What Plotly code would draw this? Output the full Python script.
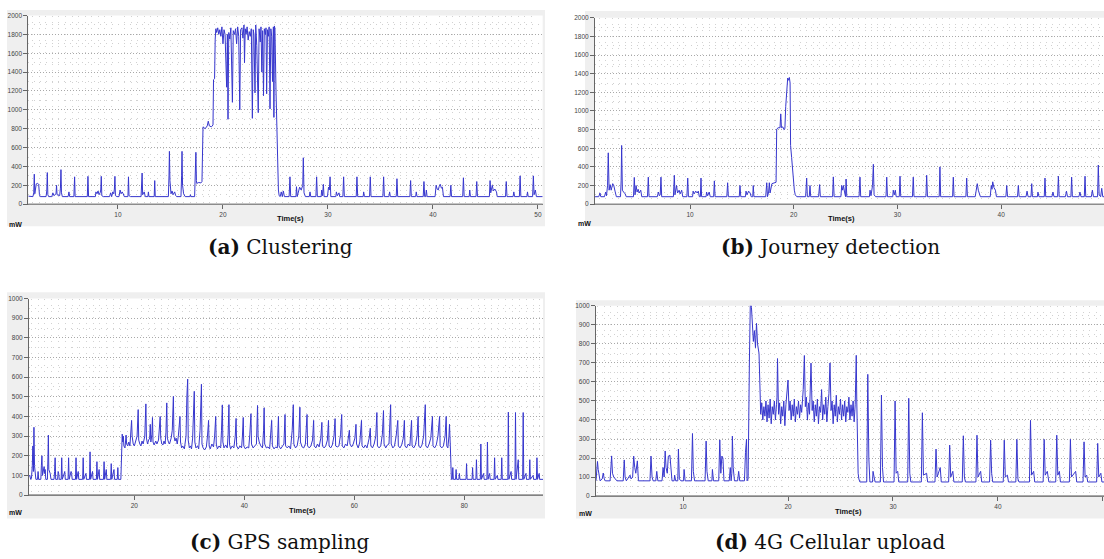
import plotly.graph_objects as go

# ---------------- data (time s, power mW) ----------------
clustering = [
    (1.46,85),(1.9,80),(1.98,120),(2.03,318),(2.08,110),(2.15,150),(2.22,215),(2.35,220),(2.45,210),(2.52,100),(2.6,80),
    (3.15,80),(3.22,140),(3.27,335),(3.32,100),(3.4,80),(3.7,80),(3.8,120),(3.9,90),(4.1,110),(4.15,200),(4.2,100),
    (4.45,90),(4.52,170),(4.57,366),(4.62,120),(4.7,80),(5.25,80),(5.33,130),(5.4,80),(5.8,80),(5.87,290),(5.92,80),
    (7.08,80),(7.14,295),(7.2,80),(7.85,80),(7.9,130),(8.0,110),(8.1,140),(8.2,100),(8.3,120),(8.36,150),(8.41,295),
    (8.46,90),(8.6,80),(9.2,80),(9.3,120),(9.4,80),(9.5,130),(9.6,110),(9.66,160),(9.71,295),(9.76,90),(9.9,80),
    (10.1,80),(10.2,150),(10.3,110),(10.4,130),(10.5,110),(10.6,80),(10.95,80),(11.0,290),(11.05,90),(11.2,80),
    (12.2,80),(12.26,200),(12.3,330),(12.35,100),(12.5,130),(12.6,80),(12.85,80),(12.9,130),(12.95,80),(13.45,80),
    (13.5,250),(13.55,80),(14.8,80),(14.86,300),(14.9,560),(14.95,250),(15.05,110),(15.15,140),(15.25,100),(15.4,130),
    (15.5,90),(15.6,80),(16.0,80),(16.06,300),(16.1,560),(16.15,200),(16.25,110),(16.4,80),(16.85,80),(16.9,100),
    (16.95,80),(17.3,80),(17.36,300),(17.42,550),(17.47,250),(17.5,220),(17.7,230),(17.9,225),(18.0,240),(18.05,600),
    (18.1,820),(18.3,800),(18.5,830),(18.6,880),(18.7,830),(18.9,820),(19.05,840),(19.1,1320),(19.2,1330),(19.26,1750),
    (19.32,1860),(19.4,1820),(19.5,1870),(19.6,1800),(19.7,1850),(19.8,1780),(19.9,1880),(20.0,1700),(20.1,1850),
    (20.2,1800),(20.35,1240),(20.42,1800),(20.48,900),(20.55,1820),(20.65,1750),(20.75,1870),(20.9,1080),(20.98,1840),
    (21.1,1800),(21.2,1860),(21.3,1700),(21.4,1880),(21.5,1780),(21.6,1000),(21.68,1850),(21.8,1870),(21.9,1760),
    (22.0,1900),(22.05,1500),(22.12,1860),(22.2,1800),(22.3,1880),(22.4,1740),(22.5,1830),(22.6,1780),(22.7,1860),
    (22.8,910),(22.88,1850),(22.95,1800),(23.05,1180),(23.12,1900),(23.22,1680),(23.36,970),(23.44,1860),(23.55,1720),
    (23.62,1880),(23.7,1400),(23.78,1840),(23.86,1150),(23.94,1860),(24.04,1800),(24.1,1870),(24.16,1170),(24.24,1850),
    (24.32,1780),(24.4,1880),(24.48,1010),(24.56,1860),(24.64,1780),(24.72,1300),(24.8,1880),(24.85,920),(24.9,1890),
    (24.95,1860),(25.05,1200),(25.12,800),(25.2,400),(25.28,150),(25.35,90),(25.45,80),(25.55,130),(25.65,80),
    (25.75,140),(25.85,80),(26.3,80),(26.38,290),(26.45,80),(26.95,80),(27.0,185),(27.07,80),(27.3,180),(27.45,150),
    (27.6,200),(27.65,492),(27.72,120),(27.85,80),(28.22,80),(28.29,130),(28.36,80),(28.85,80),(28.92,290),(28.99,80),
    (29.35,80),(29.4,150),(29.48,90),(29.56,210),(29.63,80),(29.95,80),(30.05,180),(30.13,150),(30.2,290),(30.27,80),
    (30.75,80),(30.8,130),(30.9,90),(31.05,120),(31.12,80),(31.42,80),(31.49,290),(31.56,80),(32.69,80),(32.76,290),
    (32.83,80),(33.35,80),(33.4,130),(33.47,80),(33.96,80),(34.03,290),(34.1,80),(35.23,80),(35.3,290),(35.37,80),
    (35.8,80),(35.87,130),(35.94,80),(36.5,80),(36.57,270),(36.64,80),(37.8,80),(37.87,250),(37.94,80),(38.35,80),
    (38.41,130),(38.48,80),(39.07,80),(39.14,240),(39.21,80),(39.3,80),(39.37,150),(39.44,80),(40.2,80),(40.3,200),
    (40.4,160),(40.5,150),(40.6,190),(40.7,210),(40.8,170),(40.9,180),(41.0,80),(41.63,80),(41.7,200),(41.77,80),
    (42.83,80),(42.9,280),(42.97,80),(43.45,80),(43.5,150),(43.57,80),(44.1,80),(44.17,240),(44.24,80),(45.37,80),
    (45.44,250),(45.5,120),(45.65,200),(45.75,140),(45.9,160),(46.05,130),(46.12,80),(46.91,80),(46.98,240),(47.05,80),
    (47.63,80),(47.7,130),(47.77,80),(48.23,80),(48.3,300),(48.37,80),(48.95,80),(49.0,130),(49.07,80),(49.49,80),
    (49.56,300),(49.63,100),(49.75,150),(49.85,80),(50.45,80),
]

journey = [
    (0.84,80),(1.2,80),(1.32,120),(1.4,80),(1.75,80),(1.87,130),(1.95,90),(2.05,200),(2.12,551),(2.2,150),(2.3,210),
    (2.4,150),(2.55,220),(2.65,200),(2.77,140),(2.9,80),(3.3,80),(3.36,250),(3.41,630),(3.48,150),(3.6,130),(3.75,110),
    (3.85,80),(4.55,80),(4.63,287),(4.7,100),(4.8,200),(4.9,130),(5.0,160),(5.1,120),(5.25,150),(5.35,80),(5.9,80),
    (5.98,290),(6.05,80),(6.85,80),(6.95,130),(7.05,90),(7.13,100),(7.2,290),(7.27,80),(8.4,80),(8.49,310),(8.55,100),
    (8.7,200),(8.8,120),(8.95,150),(9.05,110),(9.2,150),(9.3,80),(9.7,80),(9.78,280),(9.85,80),(10.25,80),(10.3,140),
    (10.4,110),(10.55,140),(10.7,120),(10.8,140),(10.9,80),(11.0,80),(11.06,280),(11.12,80),(11.55,80),(11.6,130),
    (11.7,90),(11.85,130),(11.95,80),(12.28,80),(12.35,250),(12.42,80),(13.55,80),(13.63,230),(13.7,80),(14.75,80),
    (14.82,200),(14.9,80),(15.35,80),(15.4,140),(15.5,100),(15.65,140),(15.8,120),(15.9,80),(16.05,80),(16.1,200),
    (16.17,80),(17.3,80),(17.4,230),(17.47,80),(17.58,130),(17.65,230),(17.72,120),(17.9,220),(18.1,230),(18.3,235),
    (18.36,806),(18.5,820),(18.68,820),(18.75,969),(18.82,820),(18.95,830),(19.05,800),(19.15,810),(19.23,1050),
    (19.35,1300),(19.42,1354),(19.5,1330),(19.58,1360),(19.65,1300),(19.7,630),(19.8,500),(19.9,350),(19.97,300),
    (20.06,150),(20.15,100),(20.3,80),(21.15,80),(21.25,280),(21.32,80),(21.5,80),(21.57,200),(21.64,80),(22.4,80),
    (22.5,210),(22.57,80),(23.75,80),(23.82,293),(23.9,80),(24.55,80),(24.63,200),(24.72,150),(24.8,200),(24.9,130),
    (25.0,80),(25.05,270),(25.12,80),(26.3,80),(26.39,290),(26.46,80),(27.3,80),(27.36,150),(27.45,90),(27.6,200),
    (27.68,428),(27.75,100),(27.9,80),(28.9,80),(28.97,290),(29.04,80),(29.55,80),(29.6,150),(29.7,100),(29.8,150),
    (29.88,80),(30.18,80),(30.25,300),(30.32,80),(31.45,80),(31.53,290),(31.6,80),(32.75,80),(32.82,310),(32.9,80),
    (34.03,80),(34.1,400),(34.17,80),(35.32,80),(35.39,290),(35.46,80),(36.6,80),(36.68,280),(36.75,80),(37.5,80),
    (37.6,140),(37.7,220),(37.8,150),(37.9,100),(38.0,80),(38.95,80),(39.05,200),(39.12,160),(39.19,240),(39.3,180),
    (39.45,150),(39.55,80),(40.46,80),(40.54,200),(40.62,80),(41.58,80),(41.66,200),(41.74,80),(42.4,80),(42.5,140),
    (42.6,80),(42.88,80),(42.95,220),(43.02,80),(43.5,80),(43.55,130),(43.65,80),(44.16,80),(44.23,280),(44.3,80),
    (44.9,80),(45.0,130),(45.1,80),(45.45,80),(45.52,300),(45.6,80),(46.2,80),(46.3,140),(46.4,80),(46.73,80),
    (46.8,290),(46.87,80),(47.5,80),(47.6,130),(47.7,80),(48.02,80),(48.09,300),(48.16,80),(48.7,80),(48.8,150),
    (48.9,80),(49.3,80),(49.37,420),(49.45,100),(49.6,80),(49.7,170),(49.8,80),(49.92,80),
]

gps = [
    (0.85,95),(1.0,100),(1.15,80),(1.3,85),(1.45,150),(1.55,250),(1.65,120),(1.75,345),(1.85,150),(1.95,110),(2.1,80),
    (2.4,80),(2.5,120),(2.6,80),(3.0,80),(3.1,150),(3.2,200),(3.3,100),(3.45,130),(3.6,145),(3.7,110),(3.8,130),
    (3.9,80),(4.2,80),(4.3,200),(4.37,305),(4.45,130),(4.55,120),(4.7,110),(4.85,80),(5.4,80),(5.5,120),(5.6,190),
    (5.7,80),(6.05,80),(6.15,120),(6.25,110),(6.35,80),(6.7,80),(6.8,190),(6.9,80),(7.25,110),(7.35,120),(7.45,80),
    (7.95,80),(8.05,190),(8.15,80),(8.5,120),(8.6,110),(8.7,80),(9.3,80),(9.4,190),(9.5,80),(9.8,120),(9.9,80),
    (10.6,80),(10.7,190),(10.8,80),(11.2,110),(11.3,80),(11.85,80),(11.95,220),(12.05,80),(12.4,120),(12.5,80),
    (13.1,80),(13.2,170),(13.3,80),(13.6,130),(13.7,80),(14.4,80),(14.5,170),(14.6,80),(14.9,130),(15.0,80),
    (15.7,80),(15.8,160),(15.9,80),(16.3,130),(16.4,80),(16.9,80),(17.0,140),(17.1,80),(17.55,80),
    (17.65,220),(17.8,310),(17.9,270),(18.0,300),(18.1,250),(18.3,240),(18.5,305),(18.6,260),(18.8,250),(19.0,270),
    (19.2,250),(19.4,330),(19.5,380),(19.6,300),(19.8,260),(20.0,250),(20.2,270),(20.5,300),(20.7,435),(20.8,280),
    (21.0,260),(21.2,250),(21.4,275),(21.6,260),(21.9,300),(22.1,464),(22.2,290),(22.4,260),(22.6,280),(22.8,290),
    (22.9,360),(23.0,270),(23.2,310),(23.3,395),(23.4,270),(23.6,255),(23.9,275),(24.1,260),(24.4,280),(24.7,400),
    (24.8,290),(25.0,260),(25.2,255),(25.4,275),(25.6,260),(25.75,320),(25.9,469),(26.0,290),(26.2,270),(26.4,260),
    (26.7,290),(26.9,330),(27.1,502),(27.2,300),(27.4,275),(27.6,290),(27.8,260),(28.0,300),(28.3,400),(28.4,270),
    (28.6,240),(28.8,250),(29.1,235),(29.4,300),(29.55,500),(29.7,590),(29.8,280),(30.0,240),(30.2,250),(30.4,235),
    (30.6,290),(30.8,420),(30.9,528),(31.0,270),(31.2,240),(31.5,250),(31.7,235),(31.95,330),(32.1,450),(32.2,564),
    (32.3,260),(32.5,240),(32.8,230),(33.1,245),(33.3,300),(33.5,380),(33.6,250),(33.8,235),(34.1,260),(34.4,245),
    (34.6,300),(34.8,400),(34.9,260),(35.1,235),(35.4,250),(35.7,240),(35.85,330),(36.0,459),(36.1,270),(36.3,240),
    (36.6,255),(36.9,240),(37.05,310),(37.2,460),(37.3,260),(37.5,235),(37.8,250),(38.1,240),(38.35,300),(38.5,390),
    (38.6,250),(38.9,235),(39.2,250),(39.5,240),(39.65,300),(39.8,395),(39.9,250),(40.2,235),(40.5,245),(40.8,240),
    (41.0,310),(41.2,414),(41.3,260),(41.6,240),(41.9,250),(42.2,260),(42.4,456),(42.5,300),(42.7,270),(43.0,250),
    (43.3,240),(43.5,330),(43.6,444),(43.7,260),(44.0,240),(44.3,245),(44.6,235),(44.8,300),(44.97,380),(45.1,250),
    (45.4,235),(45.7,245),(46.0,240),(46.2,400),(46.3,250),(46.6,235),(46.9,245),(47.2,260),(47.4,410),(47.5,250),
    (47.8,240),(48.1,250),(48.4,235),(48.7,330),(48.9,460),(49.0,260),(49.3,240),(49.6,250),(49.9,300),(50.1,447),
    (50.2,270),(50.5,245),(50.8,240),(51.1,260),(51.4,410),(51.5,250),(51.8,240),(52.1,250),(52.4,280),(52.6,380),
    (52.7,250),(53.0,240),(53.3,260),(53.6,245),(53.9,290),(54.1,370),(54.2,250),(54.5,240),(54.8,250),(55.1,280),
    (55.3,380),(55.4,250),(55.7,240),(56.0,255),(56.3,300),(56.5,389),(56.6,250),(56.9,245),(57.2,250),(57.5,310),
    (57.7,410),(57.8,250),(58.1,240),(58.4,260),(58.7,250),(59.1,330),(59.2,260),(59.5,245),(59.8,260),(60.1,290),
    (60.3,360),(60.4,260),(60.7,240),(61.0,270),(61.3,380),(61.4,250),(61.7,240),(62.0,255),(62.3,240),(62.7,290),
    (62.9,340),(63.0,250),(63.3,240),(63.6,260),(63.9,300),(64.1,420),(64.2,250),(64.5,240),(64.8,250),(65.1,310),
    (65.3,430),(65.4,260),(65.7,240),(66.0,255),(66.3,260),(66.6,460),(66.7,260),(67.0,240),(67.3,250),(67.6,300),
    (67.9,380),(68.0,250),(68.3,240),(68.6,255),(68.9,290),(69.1,380),(69.2,250),(69.5,240),(69.8,260),(70.1,250),
    (70.4,380),(70.5,250),(70.8,240),(71.1,255),(71.4,300),(71.6,400),(71.7,250),(72.0,240),(72.3,255),(72.6,300),
    (72.9,460),(73.0,250),(73.3,240),(73.6,260),(73.9,290),(74.2,400),(74.3,250),(74.6,240),(74.9,255),(75.2,300),
    (75.5,400),(75.6,250),(75.9,240),(76.2,250),(76.5,300),(76.7,400),(76.8,250),(77.0,240),(77.2,300),(77.3,360),
    (77.45,250),(77.55,90),(77.65,80),(77.8,80),(77.9,140),(78.0,80),(78.4,80),(78.5,130),(78.6,80),(79.0,80),
    (79.1,110),(79.2,80),(80.3,80),(80.4,160),(80.5,80),(81.4,80),(81.5,140),(81.6,80),(82.1,80),(82.2,180),(82.3,80),
    (82.9,80),(83.0,260),(83.1,80),(83.5,110),(83.6,80),(84.1,80),(84.2,270),(84.3,80),(84.6,110),(84.7,80),(85.4,80),
    (85.5,190),(85.6,80),(86.0,100),(86.1,80),(86.7,80),(86.8,190),(86.9,80),(87.9,80),(88.0,422),(88.1,80),(88.5,120),
    (88.6,80),(89.2,80),(89.3,420),(89.4,80),(89.8,180),(89.9,80),(90.6,80),(90.7,420),(90.8,80),(91.2,110),(91.3,80),
    (91.8,80),(91.9,180),(92.0,80),(92.5,100),(92.6,80),(93.1,80),(93.2,190),(93.3,80),(93.6,110),(93.7,80),(94.3,80),
]

upload = [
    (1.71,80),(1.78,130),(1.85,182),(1.92,140),(2.0,100),(2.1,80),(2.3,90),(2.4,121),(2.5,90),(2.6,80),(3.05,80),
    (3.15,180),(3.2,211),(3.28,120),(3.4,100),(3.55,90),(3.7,80),(4.3,80),(4.4,190),(4.48,100),(4.6,80),(4.95,110),
    (5.05,90),(5.2,100),(5.3,210),(5.4,150),(5.5,120),(5.65,185),(5.75,80),(6.85,80),(6.95,210),(7.05,100),(7.15,80),
    (7.4,80),(7.5,130),(7.6,80),(8.0,80),(8.1,150),(8.2,100),(8.3,237),(8.38,150),(8.5,120),(8.6,210),(8.75,215),
    (8.85,140),(8.95,80),(9.15,80),(9.2,110),(9.3,80),(9.5,80),(9.56,247),(9.65,90),(9.8,80),(10.05,80),(10.1,140),
    (10.2,80),(10.8,80),(10.9,329),(10.98,130),(11.1,80),(12.1,80),(12.2,289),(12.28,130),(12.4,80),(12.75,80),
    (12.8,140),(12.9,80),(13.4,80),(13.5,295),(13.6,120),(13.7,210),(13.8,200),(13.9,80),(14.4,80),(14.5,150),
    (14.58,80),(14.65,120),(14.7,315),(14.78,150),(14.9,80),(15.2,80),(15.3,130),(15.4,80),(15.85,80),(15.95,230),
    (16.05,300),(16.1,80),(16.2,90),(16.32,700),(16.42,1050),(16.52,990),(16.63,850),(16.7,813),(16.8,870),(16.9,780),
    (17.0,908),(17.1,800),(17.24,750),(17.33,500),(17.4,430),(17.5,490),(17.6,400),(17.7,470),(17.8,420),(17.9,500),
    (18.0,390),(18.1,480),(18.2,410),(18.3,510),(18.4,380),(18.5,470),(18.6,430),(18.7,500),(18.8,400),(18.9,480),
    (18.95,520),(19.0,723),(19.1,430),(19.2,490),(19.3,380),(19.4,470),(19.5,420),(19.6,500),(19.7,370),(19.8,480),
    (19.9,540),(20.0,610),(20.1,450),(20.2,500),(20.3,400),(20.4,480),(20.5,420),(20.6,510),(20.7,390),(20.8,470),
    (20.9,430),(21.0,500),(21.1,410),(21.2,480),(21.3,440),(21.45,560),(21.56,739),(21.65,470),(21.75,520),(21.85,400),
    (21.95,490),(22.05,430),(22.19,699),(22.3,450),(22.4,500),(22.5,390),(22.6,480),(22.7,420),(22.8,510),(22.9,380),
    (23.0,470),(23.1,440),(23.2,560),(23.3,400),(23.4,480),(23.5,430),(23.6,520),(23.7,390),(23.8,470),(23.9,540),
    (24.0,700),(24.1,450),(24.2,500),(24.3,380),(24.4,480),(24.5,420),(24.6,530),(24.7,390),(24.8,470),(24.9,430),
    (25.0,510),(25.1,400),(25.2,480),(25.3,420),(25.4,500),(25.5,390),(25.6,470),(25.7,440),(25.8,520),(25.9,400),
    (26.0,480),(26.1,420),(26.2,500),(26.3,390),(26.4,480),(26.5,740),(26.55,500),(26.6,180),(26.68,120),(26.75,90),
    (26.85,74),(27.5,74),(27.6,640),(27.7,200),(27.8,74),(28.05,74),(28.1,130),(28.2,100),(28.3,74),(28.8,74),
    (28.9,531),(29.0,150),(29.1,74),(30.1,74),(30.2,500),(30.3,120),(30.45,130),(30.55,74),(31.4,74),(31.5,514),
    (31.6,120),(31.7,74),(32.7,74),(32.8,438),(32.9,110),(33.2,120),(33.3,74),(34.0,74),(34.1,247),(34.2,100),
    (34.5,150),(34.6,74),(35.3,74),(35.4,268),(35.5,100),(35.7,130),(35.8,74),(36.6,74),(36.7,317),(36.8,100),
    (36.9,74),(37.9,74),(38.0,320),(38.1,100),(38.35,130),(38.45,74),(39.2,74),(39.3,294),(39.4,120),(39.5,74),
    (40.5,74),(40.6,294),(40.7,100),(40.9,110),(41.0,74),(41.7,74),(41.8,298),(41.9,90),(42.0,74),(43.0,74),
    (43.1,398),(43.2,110),(43.4,130),(43.5,74),(44.3,74),(44.4,298),(44.5,110),(44.7,130),(44.85,74),(45.5,74),
    (45.6,320),(45.7,110),(45.85,130),(45.95,74),(46.8,74),(46.9,298),(47.0,100),(47.4,130),(47.5,74),(48.1,74),
    (48.2,285),(48.3,100),(48.45,110),(48.55,74),(49.4,74),(49.5,277),(49.6,100),(49.8,120),(49.9,74),(50.1,74),
]

captions = ["<b>(a)</b> Clustering", "<b>(b)</b> Journey detection",
            "<b>(c)</b> GPS sampling", "<b>(d)</b> 4G Cellular upload"]
x_label = "Time(s)"
y_label = "mW"

W, H = 1104, 559
def px(x): return x / W
def py(y): return 1 - y / H

# panel geometry (pixels)
panels = [
    dict(data=clustering, plot=(28.3, 542.7, 11.7, 202.7), bg=(7, 545, 6, 225), xr=[1.46, 50.45], yr=[0, 2000],
         xd=10, yd=200, xminor=0.625, time=(290, 217), mw=(15, 223), cap=(280, 246)),
    dict(data=journey, plot=(595, 1104, 14, 202.7), bg=(585, 1104, 7, 225), xr=[0.84, 49.92], yr=[0, 2000],
         xd=10, yd=200, xminor=0.625, time=(842, 217), mw=(584, 222), cap=(830, 246)),
    dict(data=gps, plot=(29, 543, 298.3, 497.3), bg=(7, 545, 292, 521), xr=[0.85, 94.3], yr=[0, 1000],
         xd=20, yd=100, xminor=1.25, time=(302, 513), mw=(15, 515), cap=(280, 545)),
    dict(data=upload, plot=(596, 1104, 305.7, 498.3), bg=(576, 1104, 300, 521), xr=[1.71, 50.1], yr=[0, 1000],
         xd=10, yd=100, xminor=0.625, time=(848, 514), mw=(585, 516), cap=(830, 545)),
]

fig = go.Figure()
shapes, annotations = [], []
tickfont = dict(family="Liberation Sans, Arial, sans-serif", size=6.5, color="#444")
layout = {}
for i, p in enumerate(panels):
    n = "" if i == 0 else str(i + 1)
    t = [s[0] for s in p["data"]]
    v = [s[1] for s in p["data"]]
    fig.add_trace(go.Scatter(x=t, y=v, mode="lines", xaxis="x" + n, yaxis="y" + n,
                             line=dict(color="rgb(55,55,205)", width=1), showlegend=False, hoverinfo="skip"))
    x0, x1, y0, y1 = p["plot"]
    layout["xaxis" + n] = dict(
        domain=[px(x0), px(x1)], range=p["xr"], anchor="y" + n, dtick=p["xd"], tick0=0,
        showgrid=False, zeroline=False, showline=True, linecolor="#666", linewidth=1,
        ticks="outside", ticklen=4, tickcolor="#666", tickfont=tickfont,
        minor=dict(dtick=p["xminor"], tick0=0, showgrid=True, gridcolor="#d2d2d2", griddash="1px,5px", gridwidth=1),
    )
    layout["yaxis" + n] = dict(
        domain=[py(y1), py(y0)], range=p["yr"], anchor="x" + n, dtick=p["yd"], tick0=0,
        showgrid=True, gridcolor="#a8a8a8", griddash="1px,2px", gridwidth=1, zeroline=False,
        showline=True, linecolor="#666", linewidth=1, ticks="outside", ticklen=4, tickcolor="#666",
        tickfont=tickfont,
        minor=dict(dtick=p["yd"] / 2, tick0=0, showgrid=True, gridcolor="#d0d0d0", griddash="1px,5px", gridwidth=1),
    )
    bx0, bx1, by0, by1 = p["bg"]
    shapes.append(dict(type="rect", xref="paper", yref="paper", x0=px(bx0), x1=px(bx1), y0=py(by1), y1=py(by0),
                       fillcolor="#efefef", line=dict(width=0), layer="below"))
    shapes.append(dict(type="rect", xref="paper", yref="paper", x0=px(x0), x1=px(x1), y0=py(y0), y1=py(y1),
                       fillcolor="white", line=dict(width=0), layer="below"))
    shapes.append(dict(type="line", xref="paper", yref="paper", x0=px(x0), x1=px(x1), y0=py(y1), y1=py(y1),
                       line=dict(color="#8c8c8c", width=1.5), layer="above"))
    annotations.append(dict(text="<b>" + x_label + "</b>", x=px(p["time"][0]), y=py(p["time"][1]), xref="paper",
                            yref="paper", showarrow=False, xanchor="center", yanchor="middle",
                            font=dict(family="Liberation Sans, Arial, sans-serif", size=7.5, color="#111")))
    annotations.append(dict(text="<b>" + y_label + "</b>", x=px(p["mw"][0]), y=py(p["mw"][1]), xref="paper",
                            yref="paper", showarrow=False, xanchor="center", yanchor="middle",
                            font=dict(family="Liberation Sans, Arial, sans-serif", size=7, color="#111")))
    annotations.append(dict(text=captions[i], x=px(p["cap"][0]), y=py(p["cap"][1]), xref="paper", yref="paper",
                            showarrow=False, xanchor="center", yanchor="middle",
                            font=dict(family="DejaVu Serif, Liberation Serif, serif", size=20, color="#111")))

fig.update_layout(width=W, height=H, margin=dict(l=0, r=0, t=0, b=0), paper_bgcolor="white",
                  plot_bgcolor="rgba(0,0,0,0)", shapes=shapes, annotations=annotations, **layout)
fig.write_html("out.html", config={"displayModeBar": False})
